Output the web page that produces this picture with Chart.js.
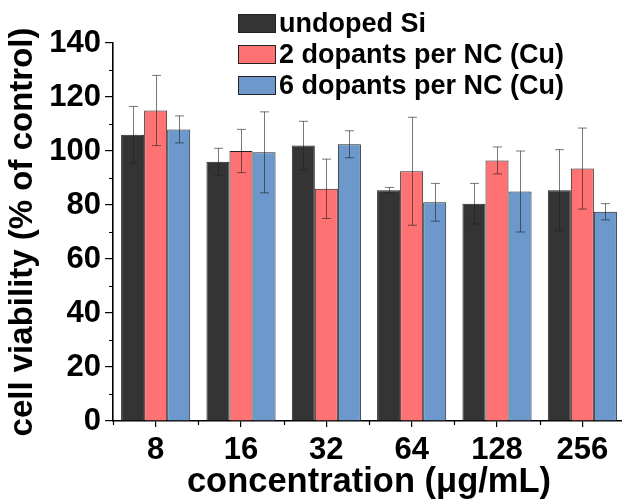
<!DOCTYPE html>
<html>
<head>
<meta charset="utf-8">
<script src="https://cdn.jsdelivr.net/npm/chart.js@4/dist/chart.umd.min.js"></script>
<style>
  html, body { margin: 0; padding: 0; background: #fff; overflow: hidden; }
  #wrap { width: 622px; height: 500px; overflow: hidden; position: relative; }
  canvas { display: block; }
</style>
</head>
<body>
<div id="wrap"><canvas id="c" width="630" height="500"></canvas></div>
<script>
// ---- data ----
const categories = ['8', '16', '32', '64', '128', '256'];
const seriesNames = ['undoped Si', '2 dopants per NC (Cu)', '6 dopants per NC (Cu)'];
const undoped    = [106, 96, 102, 85.5, 80.5, 85.5];
const undopedErr = [10.5, 5, 9, 1, 7.5, 15];
const cu2        = [115, 100, 86, 92.5, 96.5, 93.5];
const cu2Err     = [13, 8, 11, 20, 5, 15];
const cu6        = [108, 99.5, 102.5, 81, 85, 77.5];
const cu6Err     = [5, 15, 5, 7, 15, 3];
const yMin = 0, yMax = 140, yStep = 20, yMinorStep = 10;
const xTitle = 'concentration (μg/mL)';
const yTitle = 'cell viability (% of control)';

const FONT = "'Liberation Sans', Arial, Helvetica, sans-serif";
const colors = ['#343434', '#FF7274', '#6C98CC'];
const errs = [undopedErr, cu2Err, cu6Err];

const errorBars = {
  id: 'errorBars',
  afterDatasetsDraw(chart) {
    const ctx = chart.ctx, ys = chart.scales.y;
    ctx.save();
    ctx.strokeStyle = 'rgba(30,30,30,0.6)';
    ctx.lineWidth = 1;
    chart.data.datasets.forEach((ds, i) => {
      const meta = chart.getDatasetMeta(i);
      meta.data.forEach((el, j) => {
        const v = ds.data[j], e = ds.errors[j];
        const x = Math.round(el.x) + 0.5;
        const yt = ys.getPixelForValue(v + e), yb = ys.getPixelForValue(v - e);
        ctx.beginPath();
        ctx.moveTo(x, yt); ctx.lineTo(x, yb);
        ctx.moveTo(x - 4.5, yt); ctx.lineTo(x + 4.5, yt);
        ctx.moveTo(x - 4.5, yb); ctx.lineTo(x + 4.5, yb);
        ctx.stroke();
      });
    });
    ctx.restore();
  }
};

const minorTicks = {
  id: 'minorTicks',
  afterDraw(chart) {
    const ctx = chart.ctx, ys = chart.scales.y;
    const area = chart.chartArea;
    ctx.save();
    ctx.strokeStyle = '#000';
    ctx.lineWidth = 1.2;
    ctx.beginPath();
    for (let v = yMin + yMinorStep; v < yMax; v += yStep) {
      const y = Math.round(ys.getPixelForValue(v)) + 0.5;
      ctx.moveTo(area.left - 4, y); ctx.lineTo(area.left, y);
    }
    const n = categories.length;
    const w = (area.right - area.left) / n;
    for (let i = 0; i <= n; i++) {
      const x = Math.round(area.left + i * w) + 0.5;
      ctx.moveTo(x, area.bottom); ctx.lineTo(x, area.bottom + 4);
    }
    ctx.stroke();
    ctx.restore();
  }
};

const legendPlugin = {
  id: 'customLegend',
  afterDraw(chart) {
    const ctx = chart.ctx;
    ctx.save();
    const bx = 238, bw = 38, bh = 19, tops = [14, 45, 76];
    chart.data.datasets.forEach((ds, i) => {
      const y = tops[i];
      ctx.fillStyle = ds.backgroundColor;
      ctx.fillRect(bx, y, bw, bh);
      ctx.strokeStyle = '#222';
      ctx.lineWidth = 1;
      ctx.strokeRect(bx + 0.5, y + 0.5, bw - 1, bh - 1);
      ctx.fillStyle = '#000';
      ctx.font = 'bold 27px ' + FONT;
      ctx.textBaseline = 'middle';
      ctx.textAlign = 'left';
      ctx.fillText(ds.label, bx + bw + 3, y + bh / 2 + 1);
    });
    ctx.restore();
  }
};

new Chart(document.getElementById('c'), {
  type: 'bar',
  data: {
    labels: categories,
    datasets: [
      { label: seriesNames[0], data: undoped, errors: errs[0], backgroundColor: colors[0] },
      { label: seriesNames[1], data: cu2, errors: errs[1], backgroundColor: colors[1] },
      { label: seriesNames[2], data: cu6, errors: errs[2], backgroundColor: colors[2] }
    ].map(d => Object.assign(d, { borderColor: '#222', borderWidth: 1, barPercentage: 1.0, categoryPercentage: 0.81 }))
  },
  options: {
    responsive: false,
    animation: false,
    devicePixelRatio: 1,
    layout: { padding: { top: 43, right: 5, bottom: 0, left: 0 } },
    plugins: { legend: { display: false }, tooltip: { enabled: false } },
    scales: {
      x: {
        offset: true,
        grid: { display: true, offset: false, drawOnChartArea: false, drawTicks: true, tickLength: 6, color: '#000', lineWidth: 1.2 },
        border: { display: true, color: '#000', width: 1.6 },
        ticks: { color: '#000', font: { family: FONT, size: 31, weight: 'bold' }, padding: 5, maxRotation: 0, autoSkip: false },
        title: { display: true, text: xTitle, color: '#000', font: { family: FONT, size: 34.5, weight: 'bold' }, padding: { top: 0, bottom: -3 } },
        afterFit(s) { s.height = 79; }
      },
      y: {
        min: yMin, max: yMax,
        grid: { display: true, drawOnChartArea: false, drawTicks: true, tickLength: 8, color: '#000', lineWidth: 1.2 },
        border: { display: true, color: '#000', width: 1.6 },
        ticks: { stepSize: yStep, color: '#000', font: { family: FONT, size: 31, weight: 'bold' }, padding: 4 },
        title: { display: true, text: yTitle, color: '#000', font: { family: FONT, size: 33, weight: 'bold' }, padding: { top: 3, bottom: 0 } },
        afterFit(s) { s.width = 113; }
      }
    }
  },
  plugins: [errorBars, minorTicks, legendPlugin]
});
</script>
</body>
</html>
